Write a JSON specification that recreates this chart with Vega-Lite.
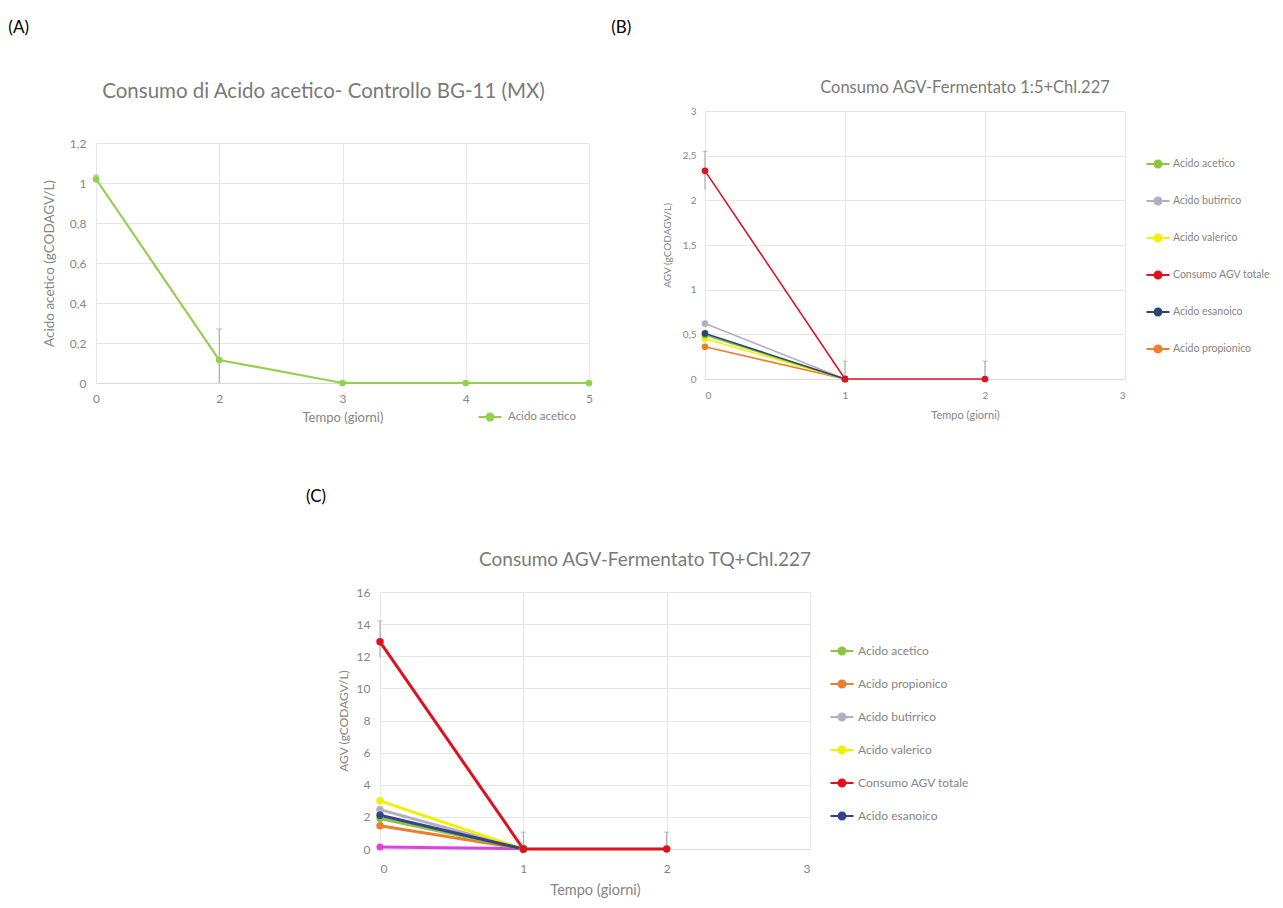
{
  "$schema": "https://vega.github.io/schema/vega-lite/v6.json",
  "background": "white",
  "padding": {"left": 8, "right": 5, "top": 19, "bottom": 5},
  "config": {
    "font": "Lato",
    "view": {"stroke": null},
    "axis": {"labelFont": "Lato", "titleFont": "Lato", "labelColor": "#858585", "titleColor": "#858585", "titleFontWeight": "normal", "gridColor": "#e6e6e6", "domainColor": "#d9d9d9", "ticks": false, "labelOverlap": false},
    "axisY": {"domain": false},
    "legend": {"labelFont": "Lato", "labelColor": "#858585", "symbolType": "M-2.3,0H2.3M-0.7,0A0.7,0.7,0,1,1,0.7,0A0.7,0.7,0,1,1,-0.7,0Z", "symbolSize": 100, "symbolStrokeWidth": 2, "labelOffset": 9},
    "title": {"font": "Lato", "fontWeight": "normal", "color": "#7a7a7a"}
  },
  "datasets": {
    "A": [
      {"giorno": 0, "valore": 1.02, "serie": "Acido acetico"},
      {"giorno": 2, "valore": 0.115, "serie": "Acido acetico"},
      {"giorno": 3, "valore": 0, "serie": "Acido acetico"},
      {"giorno": 4, "valore": 0, "serie": "Acido acetico"},
      {"giorno": 5, "valore": 0, "serie": "Acido acetico"}
    ],
    "A_err": [
      {"giorno": 0, "lo": 1.0, "hi": 1.04},
      {"giorno": 2, "lo": 0, "hi": 0.27}
    ],
    "B": [
      {"giorno": 0, "valore": 0.36, "serie": "Acido propionico"},
      {"giorno": 1, "valore": 0, "serie": "Acido propionico"},
      {"giorno": 0, "valore": 0.45, "serie": "Acido valerico"},
      {"giorno": 1, "valore": 0, "serie": "Acido valerico"},
      {"giorno": 0, "valore": 0.49, "serie": "Acido acetico"},
      {"giorno": 1, "valore": 0, "serie": "Acido acetico"},
      {"giorno": 0, "valore": 0.62, "serie": "Acido butirrico"},
      {"giorno": 1, "valore": 0, "serie": "Acido butirrico"},
      {"giorno": 0, "valore": 0.51, "serie": "Acido esanoico"},
      {"giorno": 1, "valore": 0, "serie": "Acido esanoico"},
      {"giorno": 0, "valore": 2.33, "serie": "Consumo AGV totale"},
      {"giorno": 1, "valore": 0, "serie": "Consumo AGV totale"},
      {"giorno": 2, "valore": 0, "serie": "Consumo AGV totale"}
    ],
    "B_err": [
      {"giorno": 0, "lo": 2.12, "hi": 2.55},
      {"giorno": 1, "lo": 0, "hi": 0.2},
      {"giorno": 2, "lo": 0, "hi": 0.2}
    ],
    "C": [
      {"giorno": 0, "valore": 1.45, "serie": "Acido propionico"},
      {"giorno": 1, "valore": 0, "serie": "Acido propionico"},
      {"giorno": 0, "valore": 1.9, "serie": "Acido acetico"},
      {"giorno": 1, "valore": 0, "serie": "Acido acetico"},
      {"giorno": 0, "valore": 2.45, "serie": "Acido butirrico"},
      {"giorno": 1, "valore": 0, "serie": "Acido butirrico"},
      {"giorno": 0, "valore": 3.0, "serie": "Acido valerico"},
      {"giorno": 1, "valore": 0, "serie": "Acido valerico"},
      {"giorno": 0, "valore": 2.1, "serie": "Acido esanoico"},
      {"giorno": 1, "valore": 0, "serie": "Acido esanoico"},
      {"giorno": 0, "valore": 12.9, "serie": "Consumo AGV totale"},
      {"giorno": 1, "valore": 0, "serie": "Consumo AGV totale"},
      {"giorno": 2, "valore": 0, "serie": "Consumo AGV totale"}
    ],
    "C_extra": [
      {"giorno": 0, "valore": 0.12},
      {"giorno": 1, "valore": 0.02}
    ],
    "C_err": [
      {"giorno": 0, "lo": 11.9, "hi": 14.2},
      {"giorno": 1, "lo": 0, "hi": 1.05},
      {"giorno": 2, "lo": 0, "hi": 1.05}
    ]
  },
  "resolve": {"scale": {"color": "independent"}, "legend": {"color": "independent"}},
  "spacing": 63,
  "vconcat": [
    {
      "resolve": {"scale": {"color": "independent"}, "legend": {"color": "independent"}},
      "spacing": 17,
      "hconcat": [
        {
          "title": {"text": "(A)", "anchor": "start", "fontSize": 17, "color": "#000000", "dx": -34, "offset": 8},
          "spacing": 35,
          "vconcat": [
            {"width": 10, "height": 1, "data": {"values": []}, "mark": "rule", "encoding": {}},
            {
              "width": 493,
              "height": 240,
              "title": {"text": "Consumo di Acido acetico- Controllo BG-11 (MX)", "fontSize": 20.5, "offset": 35, "dx": -19},
              "encoding": {
                "x": {"field": "giorno", "type": "ordinal", "scale": {"type": "point", "padding": 0}, "axis": {"title": "Tempo (giorni)", "labelAngle": 0, "grid": true, "labelFontSize": 12, "titleFontSize": 13, "labelPadding": 10, "titlePadding": 7}}
              },
              "layer": [
                {
                  "data": {"name": "A_err"},
                  "mark": {"type": "rule", "color": "#a0a0a0", "strokeWidth": 1},
                  "encoding": {
                    "y": {"field": "lo", "type": "quantitative", "scale": {"domain": [0, 1.2]}, "axis": {"title": "Acido acetico (gCODAGV/L)", "values": [0, 0.2, 0.4, 0.6, 0.8, 1, 1.2], "labelExpr": "replace(toString(datum.value), '.', ',')", "labelFontSize": 12, "titleFontSize": 13.5, "labelPadding": 10, "titlePadding": 13}},
                    "y2": {"field": "hi"}
                  }
                },
                {
                  "data": {"name": "A_err"},
                  "mark": {"type": "tick", "orient": "horizontal", "color": "#a0a0a0", "thickness": 1, "size": 6},
                  "encoding": {"y": {"field": "hi", "type": "quantitative", "scale": {"domain": [0, 1.2]}, "axis": {"title": "Acido acetico (gCODAGV/L)", "values": [0, 0.2, 0.4, 0.6, 0.8, 1, 1.2], "labelExpr": "replace(toString(datum.value), '.', ',')", "labelFontSize": 12, "titleFontSize": 13.5, "labelPadding": 10, "titlePadding": 13}}}
                },
                {
                  "data": {"name": "A"},
                  "mark": {"type": "line", "strokeWidth": 2.2, "point": {"filled": true, "size": 45}},
                  "encoding": {
                    "y": {"field": "valore", "type": "quantitative", "scale": {"domain": [0, 1.2]}, "axis": {"title": "Acido acetico (gCODAGV/L)", "values": [0, 0.2, 0.4, 0.6, 0.8, 1, 1.2], "labelExpr": "replace(toString(datum.value), '.', ',')", "labelFontSize": 12, "titleFontSize": 13.5, "labelPadding": 10, "titlePadding": 13}},
                    "color": {"field": "serie", "type": "nominal", "scale": {"domain": ["Acido acetico"], "range": ["#92D050"]}, "legend": {"title": null, "orient": "none", "legendX": 388, "legendY": 366, "labelFontSize": 11.5, "labelOffset": 12}}
                  }
                }
              ]
            }
          ]
        },
        {
          "title": {"text": "(B)", "anchor": "start", "fontSize": 17, "color": "#000000", "dx": -51, "offset": 8},
          "spacing": 33,
          "vconcat": [
            {"width": 10, "height": 1, "data": {"values": []}, "mark": "rule", "encoding": {}},
            {
              "width": 420,
              "height": 268,
              "title": {"text": "Consumo AGV-Fermentato 1:5+Chl.227", "fontSize": 16.5, "offset": 10, "frame": "group", "dx": 50},
              "encoding": {
                "x": {"field": "giorno", "type": "quantitative", "scale": {"domain": [0, 3]}, "axis": {"title": "Tempo (giorni)", "values": [0, 1, 2, 3], "grid": true, "labelFontSize": 10, "titleFontSize": 11, "labelPadding": 11, "titlePadding": 9, "titleX": 260}}
              },
              "layer": [
                {
                  "data": {"name": "B_err"},
                  "mark": {"type": "rule", "color": "#a0a0a0", "strokeWidth": 1},
                  "encoding": {
                    "y": {"field": "lo", "type": "quantitative", "scale": {"domain": [0, 3]}, "axis": {"title": "AGV (gCODAGV/L)", "values": [0, 0.5, 1, 1.5, 2, 2.5, 3], "labelExpr": "replace(toString(datum.value), '.', ',')", "labelFontSize": 10, "titleFontSize": 10, "labelPadding": 9, "titlePadding": 10}},
                    "y2": {"field": "hi"}
                  }
                },
                {
                  "data": {"name": "B_err"},
                  "mark": {"type": "tick", "orient": "horizontal", "color": "#a0a0a0", "thickness": 1, "size": 5},
                  "encoding": {"y": {"field": "hi", "type": "quantitative", "scale": {"domain": [0, 3]}, "axis": {"title": "AGV (gCODAGV/L)", "values": [0, 0.5, 1, 1.5, 2, 2.5, 3], "labelExpr": "replace(toString(datum.value), '.', ',')", "labelFontSize": 10, "titleFontSize": 10, "labelPadding": 9, "titlePadding": 10}}}
                },
                {
                  "data": {"name": "B"},
                  "mark": {"type": "line", "strokeWidth": 1.6, "point": {"filled": true, "size": 45}},
                  "encoding": {
                    "y": {"field": "valore", "type": "quantitative", "scale": {"domain": [0, 3]}, "axis": {"title": "AGV (gCODAGV/L)", "values": [0, 0.5, 1, 1.5, 2, 2.5, 3], "labelExpr": "replace(toString(datum.value), '.', ',')", "labelFontSize": 10, "titleFontSize": 10, "labelPadding": 9, "titlePadding": 10}},
                    "color": {"field": "serie", "type": "nominal", "scale": {"domain": ["Acido acetico", "Acido butirrico", "Acido valerico", "Consumo AGV totale", "Acido esanoico", "Acido propionico"], "range": ["#8CC63F", "#B0B0C0", "#F0F000", "#E0101E", "#2B4472", "#ED7D31"]}, "legend": {"title": null, "orient": "none", "legendX": 447, "legendY": 113, "labelFontSize": 10.5, "rowPadding": 21}}
                  }
                }
              ]
            }
          ]
        }
      ]
    },
    {
      "spacing": 10,
      "hconcat": [
        {"width": 200, "height": 1, "data": {"values": []}, "mark": "rule", "encoding": {}},
        {
          "title": {"text": "(C)", "anchor": "start", "fontSize": 17, "color": "#000000", "dx": -31, "offset": 45},
          "vconcat": [
            {
              "width": 430,
              "height": 257,
              "title": {"text": "Consumo AGV-Fermentato TQ+Chl.227", "fontSize": 19, "offset": 16, "frame": "group", "dx": 50},
              "encoding": {
                "x": {"field": "giorno", "type": "quantitative", "scale": {"domain": [0, 3]}, "axis": {"title": "Tempo (giorni)", "values": [0, 1, 2, 3], "grid": true, "labelFontSize": 12, "titleFontSize": 14.5, "labelPadding": 14, "titlePadding": 9}}
              },
              "layer": [
                {
                  "data": {"name": "C_err"},
                  "mark": {"type": "rule", "color": "#a0a0a0", "strokeWidth": 1},
                  "encoding": {
                    "y": {"field": "lo", "type": "quantitative", "scale": {"domain": [0, 16]}, "axis": {"title": "AGV (gCODAGV/L)", "values": [0, 2, 4, 6, 8, 10, 12, 14, 16], "labelFontSize": 12, "titleFontSize": 12, "labelPadding": 10, "titlePadding": 6}},
                    "y2": {"field": "hi"}
                  }
                },
                {
                  "data": {"name": "C_err"},
                  "mark": {"type": "tick", "orient": "horizontal", "color": "#a0a0a0", "thickness": 1, "size": 5},
                  "encoding": {"y": {"field": "hi", "type": "quantitative", "scale": {"domain": [0, 16]}, "axis": {"title": "AGV (gCODAGV/L)", "values": [0, 2, 4, 6, 8, 10, 12, 14, 16], "labelFontSize": 12, "titleFontSize": 12, "labelPadding": 10, "titlePadding": 6}}}
                },
                {
                  "data": {"name": "C_extra"},
                  "mark": {"type": "line", "strokeWidth": 3, "color": "#E040E0", "point": {"filled": true, "size": 50, "color": "#E040E0"}},
                  "encoding": {"y": {"field": "valore", "type": "quantitative", "scale": {"domain": [0, 16]}, "axis": {"title": "AGV (gCODAGV/L)", "values": [0, 2, 4, 6, 8, 10, 12, 14, 16], "labelFontSize": 12, "titleFontSize": 12, "labelPadding": 10, "titlePadding": 6}}}
                },
                {
                  "data": {"name": "C"},
                  "mark": {"type": "line", "strokeWidth": 3, "point": {"filled": true, "size": 55}},
                  "encoding": {
                    "y": {"field": "valore", "type": "quantitative", "scale": {"domain": [0, 16]}, "axis": {"title": "AGV (gCODAGV/L)", "values": [0, 2, 4, 6, 8, 10, 12, 14, 16], "labelFontSize": 12, "titleFontSize": 12, "labelPadding": 10, "titlePadding": 6}},
                    "color": {"field": "serie", "type": "nominal", "scale": {"domain": ["Acido acetico", "Acido propionico", "Acido butirrico", "Acido valerico", "Consumo AGV totale", "Acido esanoico"], "range": ["#8CC63F", "#ED7D31", "#B0B0C0", "#F0F000", "#E0101E", "#34438C"]}, "legend": {"title": null, "orient": "none", "legendX": 740, "legendY": 53, "labelFontSize": 12, "rowPadding": 17, "labelOffset": 10}}
                  }
                }
              ]
            }
          ]
        }
      ]
    }
  ]
}
